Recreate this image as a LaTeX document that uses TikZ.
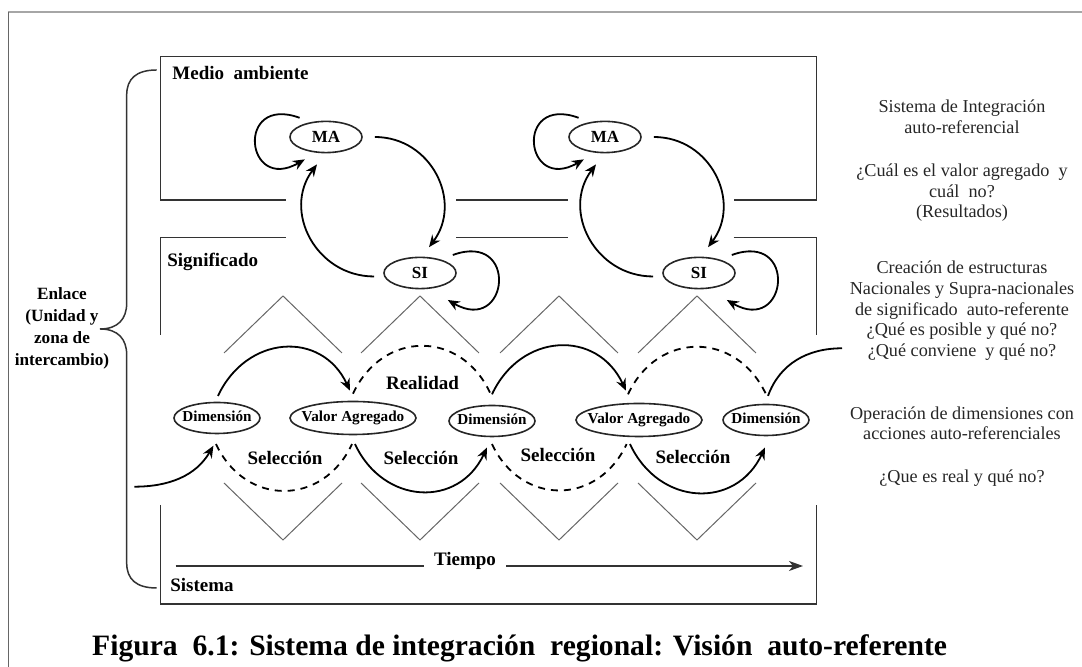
\documentclass[tikz,border=0pt]{standalone}
\usepackage{fontspec}
\setmainfont{Liberation Serif}
\usetikzlibrary{arrows.meta,shapes.geometric}

\begin{document}
\begin{tikzpicture}[x=0.5pt, y=0.5pt,
  boxline/.style={draw=black!80, line width=0.75pt},
  zigline/.style={draw=black!60, line width=0.5pt},
  lbl/.style={font=\fontsize{9.5}{11}\selectfont\bfseries, inner sep=1pt},
  note/.style={align=center, font=\fontsize{9.1}{10.3}\selectfont, text=black!85},
  oval/.style={ellipse, draw=black!85, line width=0.8pt, inner xsep=-5pt, inner ysep=0pt,
    text height=5.3pt, text depth=1.3pt, font=\fontsize{7.6}{9}\selectfont\bfseries},
  manode/.style={oval, minimum width=36pt, minimum height=15.6pt, text height=6pt, text depth=0pt,
    font=\fontsize{8.5}{10}\selectfont\bfseries},
  dimnode/.style={oval, minimum width=43pt, minimum height=15.5pt},
  vanode/.style={oval, minimum width=63pt, minimum height=16.5pt},
  arcarrow/.style={line width=0.9pt, -{Stealth[length=6pt,width=5pt,inset=2pt]}},
  arcline/.style={line width=0.9pt},
  arcdash/.style={line width=0.9pt, dash pattern=on 3.5pt off 3pt},
]
\useasboundingbox (0,0) rectangle (1082,667);

% outer frame
\draw[gray!70, line width=0.8pt] (8.3,655) -- (1082,655);
\draw[black!60, line width=0.8pt] (8.3,0) -- (8.3,655);

% Medio ambiente / Significado / Sistema
\draw[boxline] (285.8,467) -- (160.5,467) -- (160.5,610.3) -- (816.5,610.3) -- (816.5,467) -- (733.6,467);
\draw[boxline] (456.3,467) -- (567.7,467);
\draw[boxline] (160.5,332) -- (160.5,429.7) -- (285.8,429.7);
\draw[boxline] (456.3,429.7) -- (567.7,429.7);
\draw[boxline] (733.6,429.7) -- (816.5,429.7) -- (816.5,332);
\draw[boxline] (160.5,162) -- (160.5,63) -- (816.5,63) -- (816.5,162);

\node[lbl, anchor=west] (medio) at (170,594) {Medio~~ambiente};
\node[lbl, anchor=west] (signif) at (165,405) {Significado};
\node[lbl, anchor=west] (sistema) at (168,82) {Sistema};

% brace
\draw[boxline] (156.7,597) .. controls (136,597) and (126.7,588) .. (126.7,572) -- (126.7,364)
  .. controls (126.7,348) and (118,338) .. (100,338)
  .. controls (118,338) and (126.7,328) .. (126.7,312) -- (126.7,104)
  .. controls (126.7,88) and (136,79) .. (156.7,79);
\node[lbl, align=center, font=\fontsize{8.6}{11}\selectfont\bfseries] (enlace) at (62,338.7)
  {Enlace\\(Unidad y\\zona de\\intercambio)};

% MA / SI
\node[manode] (ma1) at (326,530) {MA};
\node[manode] (ma2) at (605,530) {MA};
\node[manode] (si1) at (420,394) {SI};
\node[manode] (si2) at (699,394) {SI};

\draw[arcarrow] ([xshift=6pt]ma1.east) to[out=0,in=53,looseness=1.18] ([xshift=4.5pt,yshift=4.7pt]si1.north);
\draw[arcarrow] ([xshift=-4.5pt,yshift=-1.75pt]si1.west) to[out=180,in=233,looseness=1.18] ([xshift=-4.5pt,yshift=-5.5pt]ma1.south);
\draw[arcarrow] ([xshift=6pt]ma2.east) to[out=0,in=53,looseness=1.18] ([xshift=4.5pt,yshift=4.7pt]si2.north);
\draw[arcarrow] ([xshift=-4.5pt,yshift=-1.75pt]si2.west) to[out=180,in=233,looseness=1.18] ([xshift=-4.5pt,yshift=-5.5pt]ma2.south);

% self loops
\draw[arcarrow] ([shift={(-13.2pt,9.6pt)}]ma1.center) to[out=160,in=210,looseness=4.2] ([shift={(-10.6pt,-11.2pt)}]ma1.center);
\draw[arcarrow] ([shift={(-13.2pt,9.6pt)}]ma2.center) to[out=160,in=210,looseness=4.2] ([shift={(-10.6pt,-11.2pt)}]ma2.center);
\draw[arcarrow] ([shift={(16.4pt,9pt)}]si1.center) to[out=20,in=-30,looseness=4] ([shift={(13.9pt,-13.5pt)}]si1.center);
\draw[arcarrow] ([shift={(16.4pt,9pt)}]si2.center) to[out=20,in=-30,looseness=4] ([shift={(13.9pt,-13.5pt)}]si2.center);

% zigzags
\draw[zigline] (224,314) -- (283,371) -- (342,314);
\draw[zigline] (361,314) -- (420,371) -- (479,314);
\draw[zigline] (500,314) -- (559,371) -- (618,314);
\draw[zigline] (638,314) -- (697,371) -- (756,314);
\draw[zigline] (224,184) -- (283,127) -- (342,184);
\draw[zigline] (361,184) -- (420,127) -- (479,184);
\draw[zigline] (500,184) -- (559,127) -- (618,184);
\draw[zigline] (638,184) -- (697,127) -- (756,184);

% Dimension / Valor Agregado
\node[dimnode] (dim1) at (217,249) {Dimensión};
\node[vanode] (va1) at (353,249) {Valor Agregado};
\node[dimnode] (dim2) at (492,246) {Dimensión};
\node[vanode] (va2) at (639,247) {Valor Agregado};
\node[dimnode] (dim3) at (766,247) {Dimensión};

\coordinate (in0) at (134.3,180.3);
\coordinate (out0) at (842,318.7);

% upper arcs
\draw[arcarrow] ([xshift=0.5pt,yshift=2.9pt]dim1.north) to[out=65,in=115,looseness=1.3] ([xshift=-1.5pt,yshift=5pt]va1.north);
\draw[arcdash] ([xshift=0pt,yshift=3.5pt]va1.north) to[out=65,in=115,looseness=1.3] ([xshift=-1pt,yshift=6pt]dim2.north);
\draw[arcarrow] ([xshift=0pt,yshift=5.2pt]dim2.north) to[out=65,in=115,looseness=1.3] ([xshift=-6.5pt,yshift=6pt]va2.north);
\draw[arcdash] ([xshift=-5.5pt,yshift=4.2pt]va2.north) to[out=65,in=115,looseness=1.3] ([xshift=0pt,yshift=4.7pt]dim3.north);
\draw[arcline] ([xshift=1pt,yshift=3.9pt]dim3.north) to[out=70,in=180] (out0);
\node[lbl] (realidad) at (422.5,283.7) {Realidad};

% lower arcs
\draw[arcarrow] (in0) to[out=0,in=240] ([xshift=-1.8pt,yshift=-5.7pt]dim1.south);
\draw[arcdash] ([xshift=-0.5pt,yshift=-4.9pt]dim1.south) to[out=-65,in=-115,looseness=1.3] ([xshift=-0.5pt,yshift=-4.4pt]va1.south);
\draw[arcarrow] ([xshift=1pt,yshift=-4.4pt]va1.south) to[out=-65,in=-115,looseness=1.3] ([xshift=-2.5pt,yshift=-5.1pt]dim2.south);
\draw[arcdash] ([xshift=0pt,yshift=-3.4pt]dim2.south) to[out=-65,in=-115,looseness=1.3] ([xshift=-6.2pt,yshift=-3.4pt]va2.south);
\draw[arcarrow] ([xshift=-4.5pt,yshift=-3.4pt]va2.south) to[out=-65,in=-115,looseness=1.3] ([xshift=-0.5pt,yshift=-5.6pt]dim3.south);
\node[lbl] (sel1) at (285,208.7) {Selección};
\node[lbl] (sel2) at (421,208.7) {Selección};
\node[lbl] (sel3) at (558,212) {Selección};
\node[lbl] (sel4) at (693,210.3) {Selección};

% time axis
\coordinate (t0) at (175.6,101);
\coordinate (t1) at (803,101);
\node[lbl, anchor=base, inner xsep=5pt] (tiempo) at (465,101) {Tiempo};
\draw[boxline] (t0) -- (tiempo.base west);
\draw[boxline, -{Stealth[length=7pt,width=5pt,inset=2pt]}] (tiempo.base east) -- (t1);

% right column
\node[note] (r1) at (962,550.3) {Sistema de Integración\\auto-referencial};
\node[note] (r2) at (962,474.2) {¿Cuál es el valor agregado~ y\\cuál~ no?\\(Resultados)};
\node[note] (r3) at (962,356.2) {Creación de estructuras\\Nacionales y Supra-nacionales\\de significado~ auto-referente\\¿Qué es posible y qué no?\\¿Qué conviene~ y qué no?};
\node[note] (r4) at (962,243.7) {Operación de dimensiones con\\acciones auto-referenciales};
\node[note] (r5) at (962,188.7) {¿Que es real y qué no?};

% caption
\node[font=\fontsize{14.8}{18}\selectfont\bfseries, anchor=base] (caption) at (519.6,11)
  {Figura~~6.1: Sistema de integración~~regional: Visión~~auto-referente};

\end{tikzpicture}
\end{document}
